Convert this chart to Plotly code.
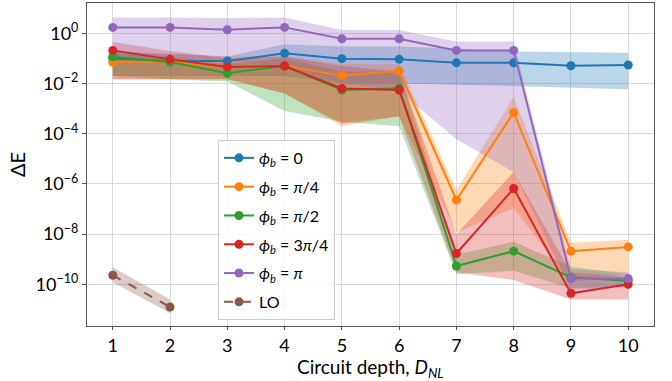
import plotly.graph_objects as go

depth = [1, 2, 3, 4, 5, 6, 7, 8, 9, 10]

labels = ["<i>ϕ</i><sub><i>b</i></sub> = 0",
          "<i>ϕ</i><sub><i>b</i></sub> = <i>π</i>/4",
          "<i>ϕ</i><sub><i>b</i></sub> = <i>π</i>/2",
          "<i>ϕ</i><sub><i>b</i></sub> = 3<i>π</i>/4",
          "<i>ϕ</i><sub><i>b</i></sub> = <i>π</i>"]
colors = ["#1f77b4", "#ff7f0e", "#2ca02c", "#d62728", "#9467bd"]
fills = ["rgba(31,119,180,0.3)", "rgba(255,127,14,0.3)", "rgba(44,160,44,0.3)",
         "rgba(214,39,40,0.3)", "rgba(148,103,189,0.3)"]

# mean values
phi_0 = [0.1, 0.08, 0.079, 0.16, 0.098, 0.092, 0.067, 0.067, 0.051, 0.055]
phi_pi4 = [0.07, 0.075, 0.045, 0.05, 0.021, 0.032, 2.3e-7, 7e-4, 2.1e-9, 3.1e-9]
phi_pi2 = [0.117, 0.072, 0.026, 0.05, 0.0055, 0.0065, 5.4e-10, 2.1e-9, 1.9e-10, 1.4e-10]
phi_3pi4 = [0.21, 0.092, 0.046, 0.05, 0.0064, 0.0055, 1.7e-9, 6.6e-7, 4.4e-11, 1.0e-10]
phi_pi = [1.73, 1.73, 1.4, 1.73, 0.61, 0.61, 0.21, 0.21, 1.7e-10, 1.7e-10]

# band bounds
lo_0 = [0.02, 0.02, 0.02, 0.02, 0.01, 0.01, 0.009, 0.008, 0.007, 0.006]
hi_0 = [0.2, 0.15, 0.12, 0.37, 0.3, 0.3, 0.25, 0.19, 0.18, 0.17]
lo_pi4 = [0.015, 0.015, 0.015, 0.004, 2e-4, 5e-4, 1.2e-8, 1.1e-7, 1.2e-10, 2.5e-10]
hi_pi4 = [0.15, 0.15, 0.12, 0.12, 0.06, 0.06, 5.8e-7, 3e-3, 4.5e-9, 6e-9]
lo_pi2 = [0.02, 0.015, 0.012, 8e-4, 3e-4, 2e-4, 2.5e-10, 3.5e-10, 7e-11, 8e-11]
hi_pi2 = [0.2, 0.12, 0.06, 0.1, 0.03, 0.03, 1.5e-9, 5e-9, 5e-10, 2.5e-10]
lo_3pi4 = [0.015, 0.015, 0.015, 0.004, 2.5e-4, 5e-4, 3e-10, 1.5e-10, 2.5e-11, 2.5e-11]
hi_3pi4 = [0.45, 0.2, 0.1, 0.12, 0.05, 0.03, 1e-8, 3e-6, 3e-10, 2e-10]
lo_pi = [0.1, 0.1, 0.08, 0.05, 0.01, 5e-3, 6e-5, 3e-6, 6e-11, 8e-11]
hi_pi = [4.3, 4.3, 4.0, 4.3, 1.35, 1.35, 0.47, 0.47, 4e-10, 3e-10]

lo_depth = [1, 2]
lo_vals = [2.3e-10, 1.25e-11]
lo_lo = [1.2e-10, 7e-12]
lo_hi = [4.8e-10, 2.5e-11]

means = [phi_0, phi_pi4, phi_pi2, phi_3pi4, phi_pi]
lows = [lo_0, lo_pi4, lo_pi2, lo_3pi4, lo_pi]
highs = [hi_0, hi_pi4, hi_pi2, hi_3pi4, hi_pi]

fig = go.Figure()

for lo, hi, fc in zip(lows, highs, fills):
    fig.add_trace(go.Scatter(x=depth + depth[::-1], y=hi + lo[::-1], fill="toself",
                             fillcolor=fc, line=dict(width=0), mode="lines",
                             hoverinfo="skip", showlegend=False))
fig.add_trace(go.Scatter(x=lo_depth + lo_depth[::-1], y=lo_hi + lo_lo[::-1], fill="toself",
                         fillcolor="rgba(140,86,75,0.3)", line=dict(width=0), mode="lines",
                         hoverinfo="skip", showlegend=False))

for i, (m, c, name) in enumerate(zip(means, colors, labels)):
    fig.add_trace(go.Scatter(x=depth, y=m, mode="lines+markers", name=name,
                             legendgroup="g%d" % i,
                             line=dict(color=c, width=2), marker=dict(color=c, size=9)))
fig.add_trace(go.Scatter(x=lo_depth, y=lo_vals, mode="lines+markers", name="LO",
                         legendgroup="g5",
                         line=dict(color="#8c564b", width=2, dash="dash"),
                         marker=dict(color="#8c564b", size=9)))

font = "Lato, 'DejaVu Sans', sans-serif"
ytv = [1e0, 1e-2, 1e-4, 1e-6, 1e-8, 1e-10]
ytt = ["10<sup>0</sup>", "10<sup>−2</sup>", "10<sup>−4</sup>", "10<sup>−6</sup>",
       "10<sup>−8</sup>", "10<sup>−10</sup>"]

fig.update_layout(
    width=672, height=381,
    margin=dict(l=87, r=18, t=3, b=55),
    paper_bgcolor="white", plot_bgcolor="white",
    font=dict(family=font, size=17, color="black"),
    legend=dict(x=0.231, y=0.576, xanchor="left", yanchor="top",
                bgcolor="rgba(255,255,255,0.85)", bordercolor="#cccccc", borderwidth=1,
                font=dict(size=16), traceorder="grouped", tracegroupgap=5),
    xaxis=dict(range=[0.55, 10.45], tickvals=depth, ticktext=[str(d) for d in depth],
               automargin=False,
               showgrid=True, gridcolor="#d9d9d9", gridwidth=1,
               showline=True, linecolor="#555555", linewidth=1, mirror=True,
               ticks="outside", ticklen=3, tickcolor="#555555",
               tickfont=dict(size=18), zeroline=False),
    yaxis=dict(type="log", range=[-11.66, 1.21], tickvals=ytv, ticktext=ytt,
               automargin=False,
               showgrid=True, gridcolor="#d9d9d9", gridwidth=1,
               showline=True, linecolor="#555555", linewidth=1, mirror=True,
               ticks="outside", ticklen=4, tickcolor="#555555",
               tickfont=dict(size=18), zeroline=False,
               title=dict(text="ΔE", font=dict(size=20), standoff=4)),
    annotations=[dict(text="Circuit depth, <i>D</i><sub><i>NL</i></sub>",
                      xref="paper", yref="paper", x=0.5, y=-0.083,
                      xanchor="center", yanchor="top", showarrow=False,
                      font=dict(size=19))],
)

fig.write_html("out.html", config={"displayModeBar": False},
               post_script="document.body.style.margin='0';")
